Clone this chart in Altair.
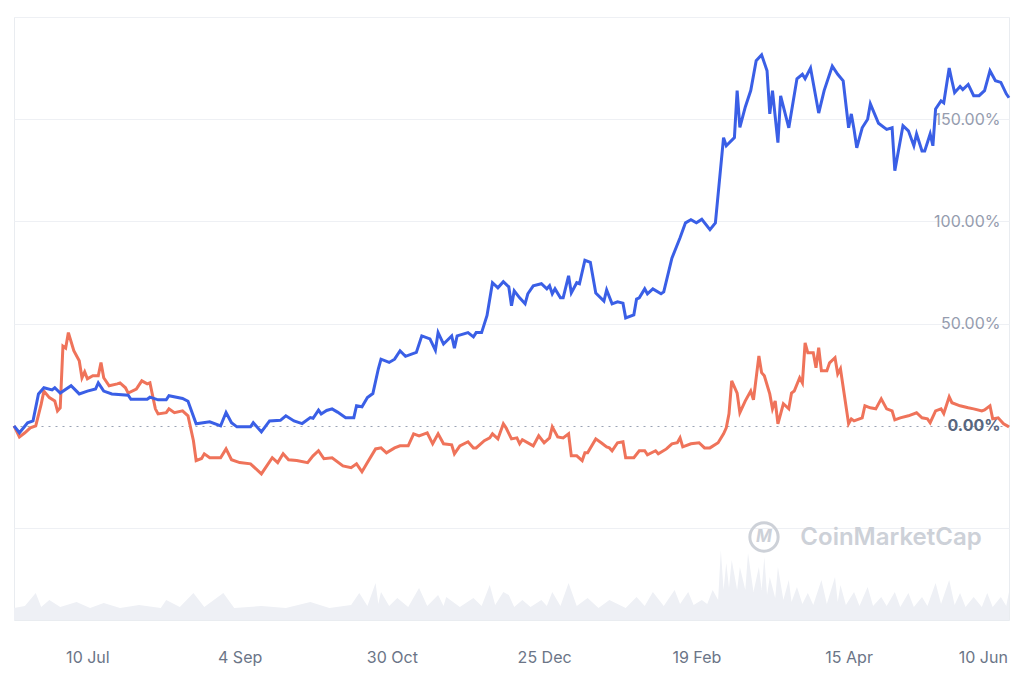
import altair as alt
import pandas as pd

START = "2023-06-13"

# Price change (%) of the two assets (day offset from START, value)
blue_days = [0, 2, 5, 7, 9, 11, 14, 15, 17, 21,
             24, 27, 30, 31, 33, 36, 42, 43, 49, 50,
             53, 56, 57, 62, 64, 67, 72, 76, 78, 80,
             82, 87, 88, 91, 94, 98, 100, 103, 106, 109,
             110, 112, 113, 115, 117, 119, 122, 125, 126, 128,
             130, 132, 134, 135, 138, 140, 142, 144, 148, 150,
             153, 155, 156, 158, 161, 162, 163, 167, 169, 170,
             172, 174, 176, 178, 180, 182, 183, 184, 186, 188,
             189, 191, 194, 196, 197, 198, 199, 201, 202, 204,
             205, 207, 208, 210, 212, 214, 217, 218, 220, 222,
             224, 225, 228, 229, 230, 232, 233, 235, 238, 239,
             242, 245, 247, 249, 251, 253, 256, 258, 261, 262,
             265, 266, 267, 269, 271, 273, 275, 277, 278, 279,
             281, 282, 285, 288, 290, 291, 293, 296, 298, 301,
             303, 305, 307, 308, 309, 310, 312, 314, 315, 318,
             321, 323, 324, 327, 329, 331, 332, 334, 335, 337,
             338, 339, 341, 342, 344, 345, 346, 348, 349, 351,
             353, 355, 357, 359, 361, 363, 365, 366]
blue_pct = [0, -3.4, 1.5, 2.4, 15.6, 18.6, 17.6, 18.6, 16, 19.6,
            15.6, 17, 18, 21, 17, 15.6, 15, 13, 13, 14,
            12.7, 12.7, 14.7, 13.4, 12, 1, 2, 0, 6.5, 1.5,
            -0.5, -0.5, 1.5, -3, 2.4, 2.7, 4.9, 2.4, 1.1, 4,
            3.7, 7.7, 5.8, 7.5, 8.3, 6.7, 4, 4, 9.8, 9.3,
            13.8, 15.8, 27.8, 32.6, 31, 32.6, 36.7, 34, 35.9, 44,
            42.5, 37, 45.6, 40, 44, 38, 44, 45.6, 43.5, 45.6,
            45.6, 54, 70, 67.5, 70.5, 68, 58.7, 66, 62.6, 59.7,
            64.6, 68.5, 69.5, 67, 68.5, 64.6, 67, 62.6, 62.6, 73.4,
            65, 70, 69.5, 81, 80, 65, 61, 66.5, 59.7, 60.7,
            60, 52.8, 54.3, 62, 62.6, 67, 64.6, 67, 64.6, 65.5,
            82, 92, 99.3, 100.8, 99.3, 101, 96, 99.3, 141, 137,
            141, 164, 146, 156, 164, 178.6, 181.5, 173.7, 152.6, 164,
            138.5, 161.4, 145.8, 169.8, 172, 169.8, 175, 153, 164, 176,
            172, 168.8, 145.8, 152.6, 145, 136, 145.8, 150, 157.5, 148,
            145, 145.8, 124.8, 146.8, 144.3, 137, 142.8, 134.5, 134.5, 142.8,
            137, 155, 159, 158, 175, 168.8, 163, 166, 164.5, 167,
            161.5, 161.5, 164, 173.7, 168.8, 168, 162.4, 160.5]

orange_days = [0, 2, 4, 6, 8, 10, 11, 13, 15, 16,
               17, 18, 19, 20, 22, 24, 25, 26, 27, 29,
               31, 32, 33, 35, 38, 39, 41, 42, 45, 47,
               49, 50, 52, 53, 56, 57, 59, 62, 64, 66,
               67, 69, 70, 72, 76, 78, 80, 83, 87, 91,
               95, 97, 99, 101, 104, 108, 110, 112, 114, 117,
               121, 124, 126, 128, 130, 133, 135, 137, 140, 142,
               145, 147, 149, 151, 152, 154, 156, 158, 161, 162,
               164, 167, 169, 170, 173, 175, 176, 178, 180, 181,
               183, 185, 186, 187, 191, 193, 195, 197, 198, 200,
               202, 204, 205, 207, 209, 210, 211, 214, 216, 218,
               219, 220, 222, 224, 225, 228, 230, 232, 233, 236,
               237, 240, 242, 244, 245, 246, 249, 252, 254, 256,
               259, 261, 262, 263, 264, 266, 267, 269, 271, 272,
               274, 275, 276, 278, 279, 280, 281, 283, 285, 286,
               287, 289, 290, 291, 292, 294, 295, 296, 297, 299,
               300, 302, 303, 304, 307, 308, 309, 312, 313, 315,
               317, 319, 321, 323, 324, 326, 329, 332, 334, 336,
               337, 339, 341, 342, 344, 345, 348, 351, 353, 356,
               357, 359, 360, 362, 364, 366]
orange_pct = [0, -5.4, -3.4, -1, 0, 10.6, 17, 13.8, 12.2, 7.3,
              8.8, 39, 38, 45.6, 36.7, 31.8, 23.5, 26.4, 23, 24.5,
              24.5, 31, 23.5, 19.6, 20.5, 21, 18.6, 16, 18, 22,
              20.5, 21, 8.3, 5.8, 6.4, 8.3, 6.4, 7.3, 4.9, -7.3,
              -17, -16, -13.7, -15.6, -15.6, -11.3, -16.6, -18, -18.6, -23.5,
              -15.6, -18, -13.7, -16.6, -17, -18, -14.7, -12.2, -16.1, -15.6,
              -19.6, -20.5, -18.6, -22.5, -18, -11.3, -10.8, -13.2, -10.8, -9.8,
              -9.8, -3.9, -4.9, -3.9, -3.4, -8.8, -3.9, -8.8, -9.3, -13.7,
              -9.8, -7.8, -10.8, -10.8, -7.3, -5.9, -3.9, -6.4, 1, -1,
              -6.4, -5.9, -8.8, -6.8, -9.8, -4.9, -8.3, -5.9, -0.5, -5.4,
              -5.9, -3.9, -14.7, -14.7, -17, -13.2, -13.2, -6.4, -8.3, -10.3,
              -10.8, -12.2, -8.3, -7.8, -15.6, -15.6, -12.2, -12.2, -14.2, -12.2,
              -13.7, -11.3, -8.8, -8.3, -5.9, -10.3, -8.8, -8.3, -10.8, -10.8,
              -8.3, -3.9, -1, 5.9, 22, 16, 6.4, 12.2, 17, 12.7,
              34.2, 26, 24.5, 15.6, 8.3, 12.2, 1, 10.8, 8.3, 16,
              17, 23.5, 21, 40.6, 35.7, 35.7, 28.4, 38.2, 26.9, 26.9,
              30.8, 33.3, 25.4, 27.9, 1, 3.4, 2.4, 3.9, 9.8, 8.8,
              8.3, 13.2, 8.3, 7.3, 2.9, 3.9, 4.9, 6.4, 3.9, 3.4,
              1.5, 7.3, 8.3, 6, 14.2, 11.3, 9.8, 8.8, 8.3, 7.3,
              7.8, 9.8, 3.4, 3.9, 1, -0.5]

# Relative trading volume (background histogram)
vol_days = [0, 4, 8, 10, 13, 17, 23, 28, 33, 39, 46, 54, 56, 61, 66, 70, 77, 81, 91, 100,
            109, 116, 124, 127, 130, 133, 134, 135, 138, 141, 145, 149, 152, 156, 158, 159,
            164, 169, 172, 175, 177, 180, 182, 184, 187, 190, 194, 196, 198, 201, 204, 207,
            211, 215, 219, 225, 229, 232, 235, 239, 243, 245, 248, 250, 253, 255, 257, 259,
            260, 261, 262, 263, 264, 266, 267, 269, 270, 272, 274, 275, 276, 277, 278, 280,
            281, 283, 285, 286, 288, 290, 292, 294, 297, 299, 302, 303, 304, 306, 309, 311,
            314, 316, 319, 321, 324, 326, 329, 331, 334, 336, 339, 341, 344, 346, 348, 350,
            353, 356, 358, 360, 363, 365, 366]
vol_vals = [12, 14, 27, 13, 20, 13, 18, 12, 17, 12, 15, 12, 20, 13, 27, 13, 27, 12, 14, 12,
            18, 12, 15, 27, 14, 37, 16, 28, 14, 22, 13, 32, 14, 25, 14, 23,
            13, 22, 14, 35, 15, 28, 25, 13, 20, 13, 20, 14, 28, 14, 37, 14,
            22, 12, 20, 12, 23, 14, 28, 14, 30, 16, 28, 15, 20, 16, 30, 20,
            70, 30, 57, 32, 60, 30, 53, 30, 67, 28, 53, 30, 63, 25, 43, 22,
            53, 20, 40, 18, 33, 16, 27, 15, 40, 16, 43, 18, 35, 15, 28, 14,
            33, 14, 23, 14, 28, 13, 27, 13, 23, 14, 37, 16, 40, 15, 27, 13,
            23, 13, 27, 13, 23, 14, 28]

x_label_dates = [(2023, 7, 10), (2023, 9, 4), (2023, 10, 30), (2023, 12, 25),
                 (2024, 2, 19), (2024, 4, 15), (2024, 6, 10)]
y_ticks = [-50, 0, 50, 100, 150, 200]
watermark = ["CoinMarketCap"]


def to_dates(days):
    idx = pd.Timestamp(START) + pd.to_timedelta(days, unit="D")
    return [d.strftime("%Y-%m-%d") for d in idx]


blue_df = pd.DataFrame({"date": to_dates(blue_days), "pct": blue_pct})
orange_df = pd.DataFrame({"date": to_dates(orange_days), "pct": orange_pct})
vol_df = pd.DataFrame({"date": to_dates(vol_days), "vol": vol_vals})

FONT = "Inter"
x_scale = alt.Scale(
    type="utc",
    domain=[alt.DateTime(year=2023, month=6, date=13, utc=True),
            alt.DateTime(year=2024, month=6, date=13, utc=True)],
)
x_axis = alt.Axis(
    values=[alt.DateTime(year=y, month=m, date=d, utc=True) for (y, m, d) in x_label_dates],
    labelExpr="utcFormat(datum.value, '%-d %b')",
    grid=False, domain=False, ticks=False, tickSize=0,
    labelPadding=29, labelFontSize=16, labelFont=FONT, labelColor="#6b7587",
    labelFlush=False, labelOverlap=False,
    labelOffset={"condition": {"test": "utcmonth(datum.value) == 5", "value": -18}, "value": 0},
    title=None,
)
y_scale = alt.Scale(domain=[-95, 200], nice=False, zero=False)
y_axis = alt.Axis(
    orient="right", values=y_ticks,
    labelExpr="(datum.value < 0 || datum.value > 190) ? '' : format(datum.value, '.2f') + '%'",
    grid=True, gridWidth=1,
    gridColor={"condition": {"test": "datum.value == 0", "value": "#9aa3b5"}, "value": "#eef0f4"},
    gridDash={"condition": {"test": "datum.value == 0", "value": [2, 5]}, "value": []},
    domain=False, ticks=False, tickSize=0,
    labelAlign="right", labelBaseline="middle", labelPadding=-9,
    labelFontSize=16, labelFont=FONT,
    labelColor={"condition": {"test": "datum.value == 0", "value": "#58667e"}, "value": "#959cae"},
    labelFontWeight={"condition": {"test": "datum.value == 0", "value": "bold"}, "value": "normal"},
    title=None,
)

vol_layer = alt.Chart(vol_df).mark_area(color="#eef0f5", interpolate="linear").encode(
    x=alt.X("date:T", scale=x_scale, axis=x_axis),
    y=alt.Y("vol:Q", scale=alt.Scale(domain=[0, 603], nice=False), axis=None),
)

orange_line = alt.Chart(orange_df).mark_line(color="#ef735a", strokeWidth=3).encode(
    x=alt.X("date:T", scale=x_scale, axis=x_axis),
    y=alt.Y("pct:Q", scale=y_scale, axis=y_axis),
)
blue_line = alt.Chart(blue_df).mark_line(color="#3a5fe6", strokeWidth=3).encode(
    x=alt.X("date:T", scale=x_scale, axis=x_axis),
    y=alt.Y("pct:Q", scale=y_scale, axis=y_axis),
)
main = alt.layer(orange_line, blue_line)

wm_df = pd.DataFrame({"t": watermark, "m": ["M"]})
wm_text = alt.Chart(wm_df).mark_text(
    font=FONT, fontSize=24, fontWeight=600, color="#cdd1d8", align="center", baseline="middle"
).encode(x=alt.value(877), y=alt.value(521), text="t:N")
wm_ring = alt.Chart(wm_df).mark_point(
    shape="circle", filled=False, strokeWidth=3, size=800, color="#cdd1d8", opacity=1
).encode(x=alt.value(750), y=alt.value(520))
wm_m = alt.Chart(wm_df).mark_text(
    font=FONT, fontSize=17, fontWeight=700, fontStyle="italic", color="#cdd1d8",
    align="center", baseline="middle"
).encode(x=alt.value(750), y=alt.value(520), text="m:N")

chart = alt.layer(vol_layer, wm_ring, wm_m, wm_text, main).resolve_scale(
    y="independent"
).properties(
    width=995, height=603,
    padding={"left": 14, "top": 17, "right": 15, "bottom": 63},
    autosize=alt.AutoSizeParams(type="none"),
    background="white",
).configure_view(stroke="#e9ecf0", strokeWidth=1)

chart.save("out.html", embed_options={"renderer": "svg", "actions": False})
